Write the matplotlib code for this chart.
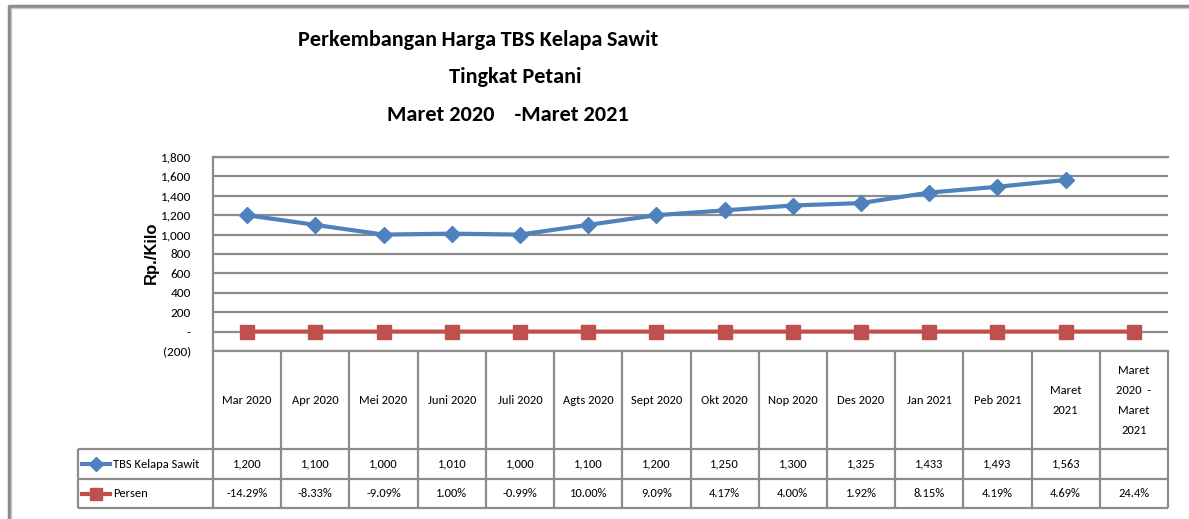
"""Perkembangan harga TBS kelapa sawit tingkat petani, Maret 2020 - Maret 2021."""

import matplotlib

matplotlib.use("Agg")
import matplotlib.pyplot as plt
import numpy as np
from matplotlib.lines import Line2D
from matplotlib.ticker import FixedLocator

months = [
    "Mar 2020", "Apr 2020", "Mei 2020", "Juni 2020", "Juli 2020", "Agts 2020",
    "Sept 2020", "Okt 2020", "Nop 2020", "Des 2020", "Jan 2021", "Peb 2021",
    "Maret\n2021", "Maret\n2020  -\nMaret\n2021",
]
harga = [1200, 1100, 1000, 1010, 1000, 1100, 1200, 1250, 1300, 1325, 1433, 1493, 1563, None]
persen = [-14.29, -8.33, -9.09, 1.00, -0.99, 10.00, 9.09, 4.17, 4.00, 1.92, 8.15, 4.19, 4.69, 24.4]
persen_labels = [
    "-14.29%", "-8.33%", "-9.09%", "1.00%", "-0.99%", "10.00%", "9.09%",
    "4.17%", "4.00%", "1.92%", "8.15%", "4.19%", "4.69%", "24.4%",
]
y_ticks = [-200, 0, 200, 400, 600, 800, 1000, 1200, 1400, 1600, 1800]
y_labels = ["(200)", "-", "200", "400", "600", "800", "1,000", "1,200", "1,400", "1,600", "1,800"]

BLUE = "#4F81BD"
RED = "#C0504D"
GRID = "#8C8C8C"
CAL = ["Carlito", "DejaVu Sans"]

W, H = 1189, 519
fig = plt.figure(figsize=(W / 100, H / 100), dpi=100)


def box(x0, y0, x1, y1):
    """Pixel box (top-left origin) to figure rect."""
    return [x0 / W, 1 - y1 / H, (x1 - x0) / W, (y1 - y0) / H]


# outer frame
frame = fig.add_axes([0, 0, 1, 1])
frame.set_xlim(0, W)
frame.set_ylim(H, 0)
frame.axis("off")
frame.plot([8.5, 8.5, W + 5], [H + 5, 5.5, 5.5], color="#8C8C8C", lw=2.5)
frame.plot([10.5, 10.5, W + 5], [H + 5, 7.5, 7.5], color="#C8C8C8", lw=1)

# titles
title_kw = dict(fontsize=16, fontweight="bold", family=CAL, ha="center", va="center")
frame.text(478, 40, "Perkembangan\u2009Harga\u2009TBS Kelapa\u2009Sawit", **title_kw)
frame.text(515, 77, "Tingkat Petani", **title_kw)
frame.text(508, 115, "Maret 2020    -Maret 2021", **title_kw)

# chart
px0, px1, py0, py1 = 213, 1168, 157, 351
ax = fig.add_axes(box(px0, py0, px1, py1))
n = len(months)
x = np.arange(n)
ax.set_xlim(-0.5, n - 0.5)
ax.set_ylim(-200, 1800)
ax.yaxis.set_major_locator(FixedLocator(y_ticks))
ax.set_yticklabels(y_labels, family=CAL, fontsize=9.5)
ax.tick_params(axis="y", length=0, pad=16)
ax.set_xticks([])
ax.grid(axis="y", color=GRID, lw=1.6)
ax.set_axisbelow(True)
for side in ["top", "left", "bottom"]:
    ax.spines[side].set_color(GRID)
    ax.spines[side].set_linewidth(1.6)
ax.spines["right"].set_visible(False)

harga_x = [i for i, v in enumerate(harga) if v is not None]
harga_y = [v for v in harga if v is not None]
ax.plot(harga_x, harga_y, color=BLUE, lw=3, marker="D", ms=8, zorder=3)
ax.plot(x, np.array(persen) / 100, color=RED, lw=3, marker="s", ms=10, zorder=3)
fig.text(151 / W, 1 - 253 / H, "Rp./Kilo", rotation=90, fontsize=12, fontweight="bold",
         ha="center", va="center", family="Liberation Sans")

# data table
tb = fig.add_axes([0, 0, 1, 1], facecolor="none")
tb.set_xlim(0, W)
tb.set_ylim(H, 0)
tb.axis("off")
col_w = (px1 - px0) / n
row_head, row1, row2, row_end = py1, 449, 479, 508
lkw = dict(color=GRID, lw=1.6, solid_capstyle="butt")
for k in range(n + 1):
    xc = px0 + k * col_w
    tb.plot([xc, xc], [row_head, row_end], **lkw)
tb.plot([78, 78], [row1, row_end], **lkw)
for yy in (row1, row2, row_end):
    tb.plot([78, px1], [yy, yy], **lkw)

cell_kw = dict(family=CAL, fontsize=9, ha="center", va="center")
for i, label in enumerate(months):
    cx = px0 + (i + 0.5) * col_w
    tb.text(cx, (row_head + row1) / 2, label, linespacing=2.0, **cell_kw)
    if harga[i] is not None:
        tb.text(cx, (row1 + row2) / 2, f"{harga[i]:,}", **cell_kw)
    tb.text(cx, (row2 + row_end) / 2, persen_labels[i], **cell_kw)

for yy, color, marker, ms, label in [
    ((row1 + row2) / 2, BLUE, "D", 7, "TBS Kelapa Sawit"),
    ((row2 + row_end) / 2, RED, "s", 9, "Persen"),
]:
    tb.add_line(Line2D([82, 110], [yy, yy], color=color, lw=3))
    tb.plot([96], [yy], marker=marker, color=color, ms=ms)
    tb.text(113, yy, label, family=CAL, fontsize=9, ha="left", va="center")

fig.savefig("out.png", dpi=100)
